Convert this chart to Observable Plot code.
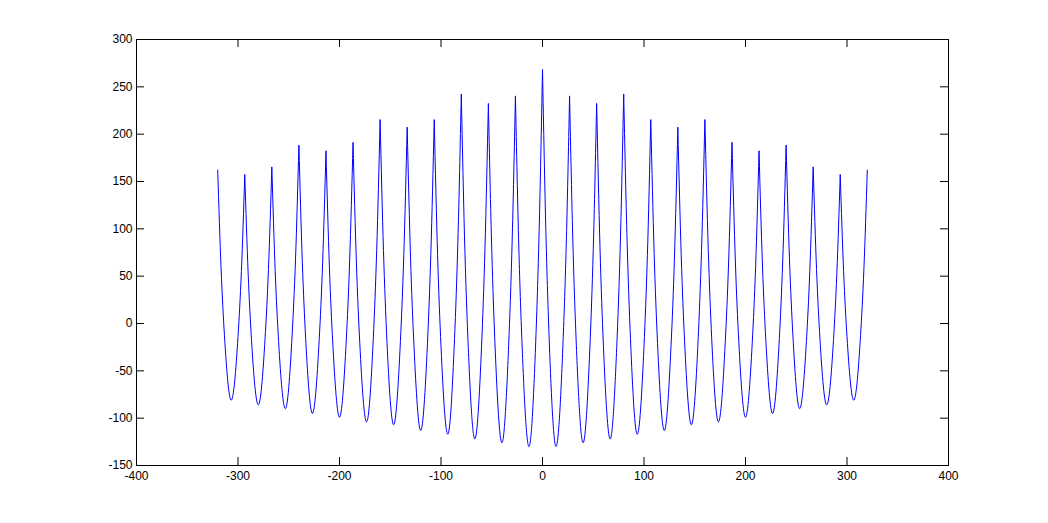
<!DOCTYPE html>
<html>
<head>
<meta charset="utf-8">
<script src="https://cdn.jsdelivr.net/npm/d3@7"></script>
<script src="https://cdn.jsdelivr.net/npm/@observablehq/plot@0.6"></script>
<style>
  html, body { margin: 0; padding: 0; background: #ffffff; }
  #chart { width: 1048px; height: 523px; }
</style>
</head>
<body>
<div id="chart"></div>
<script>
// Tick labels
const xTicks = [-400, -300, -200, -100, 0, 100, 200, 300, 400];
const yTicks = [-150, -100, -50, 0, 50, 100, 150, 200, 250, 300];

// Peaks (sharp maxima)
const peakX = [-320, -293.33, -266.67, -240, -213.33, -186.67, -160, -133.33, -106.67, -80, -53.33, -26.67, 0,
               26.67, 53.33, 80, 106.67, 133.33, 160, 186.67, 213.33, 240, 266.67, 293.33, 320];
const peakY = [162, 157, 165, 188, 182, 191, 215, 207, 215, 242, 232, 240, 268,
               240, 232, 242, 215, 207, 215, 191, 182, 188, 165, 157, 162];

// Troughs (rounded minima)
const troughX = [-306.67, -280, -253.33, -226.67, -200, -173.33, -146.67, -120, -93.33, -66.67, -40, -13.33,
                 13.33, 40, 66.67, 93.33, 120, 146.67, 173.33, 200, 226.67, 253.33, 280, 306.67];
const troughY = [-81, -86, -90, -95, -99, -104, -107, -113, -117, -122, -126, -130,
                 -130, -126, -122, -117, -113, -107, -104, -99, -95, -90, -86, -81];

// Flank values of each oscillation, read ~3.3 and ~6.7 units away from its two peaks
const descentNear = [58, 53, 55, 66, 61, 64, 77, 69, 72, 85, 78, 81, 97, 83, 80, 88, 74, 72, 78, 66, 63, 68, 57, 55];
const descentFar  = [-13, -18, -19, -16, -20, -21, -17, -23, -24, -20, -26, -26, -19, -23, -23, -16, -21, -19, -15, -18, -17, -12, -16, -14];
const ascentFar   = [-14, -16, -12, -17, -18, -15, -19, -21, -16, -23, -23, -19, -26, -26, -20, -24, -23, -17, -21, -20, -16, -19, -18, -13];
const ascentNear  = [55, 57, 68, 63, 66, 78, 72, 74, 88, 80, 83, 97, 81, 78, 85, 72, 69, 77, 64, 61, 66, 55, 53, 58];
const flankOffsetNear = 3.33;
const flankOffsetFar = 6.67;

// Build one row set per oscillation (peak -> trough -> peak)
const rows = [];
for (let k = 0; k < troughX.length; k++) {
  rows.push({k, x: peakX[k], y: peakY[k]});
  rows.push({k, x: peakX[k] + flankOffsetNear, y: descentNear[k]});
  rows.push({k, x: peakX[k] + flankOffsetFar, y: descentFar[k]});
  rows.push({k, x: troughX[k], y: troughY[k]});
  rows.push({k, x: peakX[k + 1] - flankOffsetFar, y: ascentFar[k]});
  rows.push({k, x: peakX[k + 1] - flankOffsetNear, y: ascentNear[k]});
  rows.push({k, x: peakX[k + 1], y: peakY[k + 1]});
}

const W = 1048, H = 523;
const mL = 136, mR = 100, mT = 39, mB = 58;
const innerW = W - mL - mR, innerH = H - mT - mB;
const tick = 8;

const chart = Plot.plot({
  width: W,
  height: H,
  marginLeft: mL,
  marginRight: mR,
  marginTop: mT,
  marginBottom: mB,
  style: {fontFamily: "'Liberation Sans', Arial, sans-serif", fontSize: "12px", color: "black", background: "white"},
  x: {domain: [-400, 400]},
  y: {domain: [-150, 300]},
  marks: [
    Plot.line(rows, {x: "x", y: "y", z: "k", stroke: "#0000ff", strokeWidth: 1, curve: "monotone-x"}),
    Plot.tickY(yTicks, {y: d => d, insetRight: innerW - tick, stroke: "black"}),
    Plot.tickY(yTicks, {y: d => d, insetLeft: innerW - tick, stroke: "black"}),
    Plot.tickX(xTicks, {x: d => d, insetTop: innerH - tick, stroke: "black"}),
    Plot.tickX(xTicks, {x: d => d, insetBottom: innerH - tick, stroke: "black"}),
    Plot.frame({stroke: "black"}),
    Plot.axisX({ticks: xTicks, tickSize: 0, tickPadding: 6, tickFormat: d => String(d), label: null}),
    Plot.axisY({ticks: yTicks, tickSize: 0, tickPadding: 4, tickFormat: d => String(d), label: null})
  ]
});
document.getElementById("chart").appendChild(chart);
</script>
</body>
</html>
